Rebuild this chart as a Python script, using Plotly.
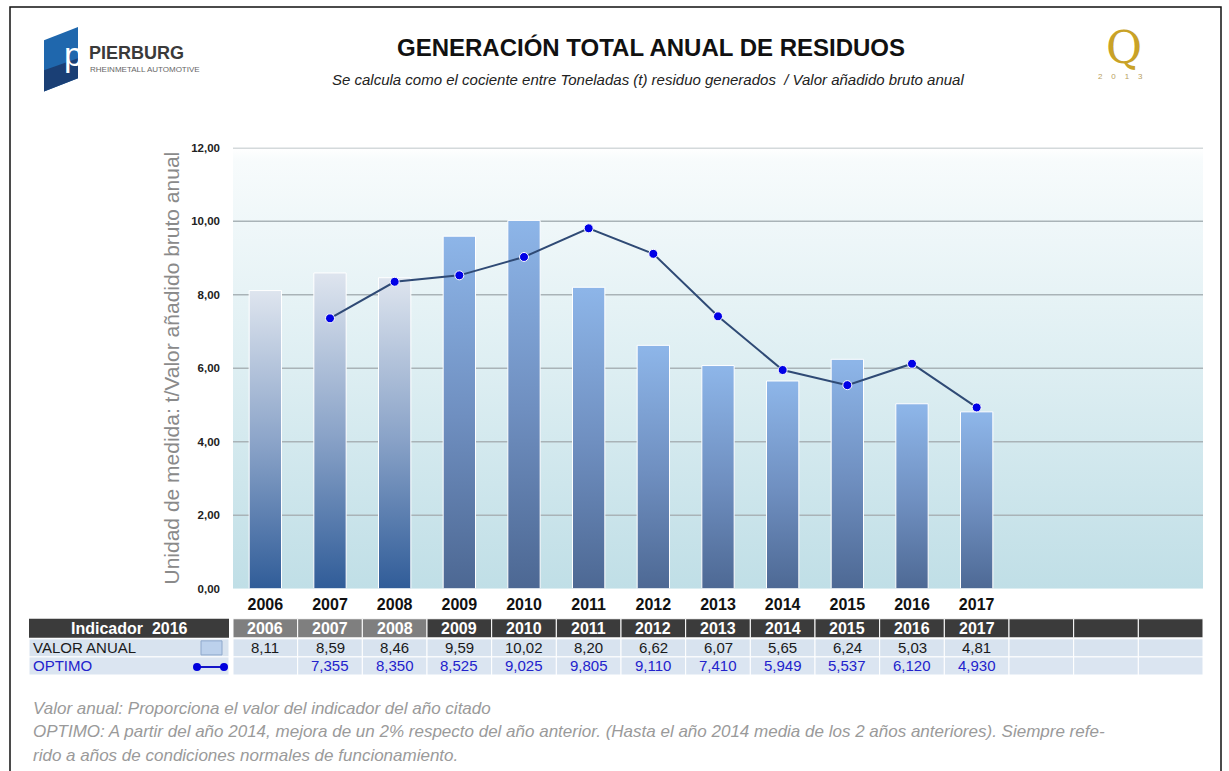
import plotly.graph_objects as go

# ---------------- data ----------------
years = ["2006", "2007", "2008", "2009", "2010", "2011", "2012", "2013", "2014", "2015", "2016", "2017"]
valor_anual = [8.11, 8.59, 8.46, 9.59, 10.02, 8.20, 6.62, 6.07, 5.65, 6.24, 5.03, 4.81]
optimo = [None, 7.355, 8.350, 8.525, 9.025, 9.805, 9.110, 7.410, 5.949, 5.537, 6.120, 4.930]
y_ticks = [0, 2, 4, 6, 8, 10, 12]
n_empty_cols = 3

title = "GENERACIÓN TOTAL ANUAL DE RESIDUOS"
subtitle = "Se calcula como el cociente entre Toneladas (t) residuo generados  / Valor añadido bruto anual"
y_title = "Unidad de medida: t/Valor añadido bruto anual"
table_head = "Indicador  2016"
row_labels = ["VALOR ANUAL", "OPTIMO"]
notes = [
    "Valor anual: Proporciona el valor del indicador del año citado",
    "OPTIMO: A partir del año 2014, mejora de un 2% respecto del año anterior. (Hasta el año 2014 media de los 2 años anteriores). Siempre refe-",
    "rido a años de condiciones normales de funcionamiento.",
]

# ---------------- styling ----------------
W, H = 1229, 771
OFF, SC = 8.0, 0.98    # vertical calibration of the photographed page
FONT = "Liberation Sans, Arial, sans-serif"
n_pale = 3
bar_half = 0.25
ncols = len(years) + n_empty_cols
x_range = [-0.5, ncols - 0.5]


def px(p):
    return p / W


def py(p):
    return 1 - ((p - OFF) / SC) / H


def fmt(v, d):
    return "" if v is None else f"{v:.{d}f}".replace(".", ",")


fig = go.Figure()

# background gradient of plot area
fig.add_trace(go.Scatter(
    x=[x_range[0], x_range[1], x_range[1], x_range[0], x_range[0]],
    y=[y_ticks[0], y_ticks[0], y_ticks[-1], y_ticks[-1], y_ticks[0]],
    fill="toself", mode="lines", line=dict(width=0),
    fillgradient=dict(type="vertical", start=y_ticks[0], stop=y_ticks[-1],
                      colorscale=[[0, "#bfdee6"], [0.5, "#ddeef2"], [0.97, "#f7fbfc"], [1, "#ffffff"]]),
    hoverinfo="skip", showlegend=False))

# gridlines (behind bars)
gx, gy = [], []
for t in y_ticks[1:]:
    gx += [x_range[0], x_range[1], None]
    gy += [t, t, None]
fig.add_trace(go.Scatter(x=gx, y=gy, mode="lines", line=dict(color="#a9b3b7", width=1.5),
                         hoverinfo="skip", showlegend=False))

# bars with vertical gradient
for i, v in enumerate(valor_anual):
    if i < n_pale:
        cs = [[0, "#2c5996"], [0.5, "#8aa3c8"], [1, "#dde4ee"]]
    else:
        cs = [[0, "#4b6691"], [0.5, "#6f8fc0"], [1, "#8db5e8"]]
    fig.add_trace(go.Scatter(
        x=[i - bar_half, i + bar_half, i + bar_half, i - bar_half, i - bar_half],
        y=[0, 0, v, v, 0],
        fill="toself", mode="lines", line=dict(color="white", width=1),
        fillgradient=dict(type="vertical", start=0, stop=v, colorscale=cs),
        name=years[i], hoverinfo="skip", showlegend=False))

# OPTIMO line
fig.add_trace(go.Scatter(
    x=list(range(len(years))), y=optimo, mode="lines+markers",
    line=dict(color="#2f4a75", width=2),
    marker=dict(color="#0000e6", size=9, line=dict(color="white", width=1)),
    connectgaps=False, showlegend=False, name="OPTIMO"))

shapes = []
annotations = []

# outer border
shapes.append(dict(type="rect", xref="paper", yref="paper", x0=px(10), x1=px(1221), y0=py(800), y1=py(9),
                   line=dict(color="#111111", width=1.5), fillcolor="rgba(0,0,0,0)"))

# ---------------- table ----------------
hdr_top, hdr_bot = 618, 637
r1_top, r1_bot = 638, 656
r2_top, r2_bot = 656, 674

# first column
shapes.append(dict(type="rect", xref="paper", yref="paper", x0=px(29), x1=px(229), y0=py(hdr_bot), y1=py(hdr_top),
                   fillcolor="#3b3b3b", line=dict(width=0), layer="above"))
shapes.append(dict(type="rect", xref="paper", yref="paper", x0=px(29), x1=px(229), y0=py(r1_bot), y1=py(r1_top),
                   fillcolor="#d8e3ef", line=dict(color="white", width=1), layer="above"))
shapes.append(dict(type="rect", xref="paper", yref="paper", x0=px(29), x1=px(229), y0=py(r2_bot), y1=py(r2_top),
                   fillcolor="#dbe5f1", line=dict(color="white", width=1), layer="above"))
annotations.append(dict(text="<b>" + table_head + "</b>", xref="paper", yref="paper", x=px(129), y=py((hdr_top + hdr_bot) / 2),
                        showarrow=False, font=dict(family=FONT, size=16, color="white"), xanchor="center", yanchor="middle"))
annotations.append(dict(text=row_labels[0], xref="paper", yref="paper", x=px(31), y=py((r1_top + r1_bot) / 2),
                        showarrow=False, font=dict(family=FONT, size=15, color="#1a1a1a"), xanchor="left", yanchor="middle"))
annotations.append(dict(text=row_labels[1], xref="paper", yref="paper", x=px(31), y=py((r2_top + r2_bot) / 2),
                        showarrow=False, font=dict(family=FONT, size=15, color="#2222cc"), xanchor="left", yanchor="middle"))
# legend symbols
shapes.append(dict(type="rect", xref="paper", yref="paper", x0=px(201), x1=px(222), y0=py(654), y1=py(640),
                   fillcolor="#bcd1ec", line=dict(color="#8ea8cc", width=1), layer="above"))
shapes.append(dict(type="line", xref="paper", yref="paper", x0=px(197), x1=px(224), y0=py(666), y1=py(666),
                   line=dict(color="#1515c8", width=2), layer="above"))
for cx in (197, 224):
    shapes.append(dict(type="circle", xref="paper", yref="paper", x0=px(cx - 4), x1=px(cx + 4), y0=py(670), y1=py(662),
                       fillcolor="#0000dd", line=dict(width=0), layer="above"))

# year columns
for c in range(ncols):
    hcol = "#7f7f7f" if c < n_pale else "#3b3b3b"
    shapes.append(dict(type="rect", xref="x", yref="paper", x0=c - 0.5, x1=c + 0.5, y0=py(hdr_bot), y1=py(hdr_top),
                       fillcolor=hcol, line=dict(color="white", width=1), layer="above"))
    shapes.append(dict(type="rect", xref="x", yref="paper", x0=c - 0.5, x1=c + 0.5, y0=py(r1_bot), y1=py(r1_top),
                       fillcolor="#d8e3ef", line=dict(color="white", width=1), layer="above"))
    shapes.append(dict(type="rect", xref="x", yref="paper", x0=c - 0.5, x1=c + 0.5, y0=py(r2_bot), y1=py(r2_top),
                       fillcolor="#dbe5f1", line=dict(color="white", width=1), layer="above"))
    if c < len(years):
        annotations.append(dict(text="<b>" + years[c] + "</b>", xref="x", yref="paper", x=c, y=py((hdr_top + hdr_bot) / 2),
                                showarrow=False, font=dict(family=FONT, size=16, color="white"), yanchor="middle"))
        annotations.append(dict(text=fmt(valor_anual[c], 2), xref="x", yref="paper", x=c, y=py((r1_top + r1_bot) / 2),
                                showarrow=False, font=dict(family=FONT, size=15, color="#1a1a1a"), yanchor="middle"))
        annotations.append(dict(text=fmt(optimo[c], 3), xref="x", yref="paper", x=c, y=py((r2_top + r2_bot) / 2),
                                showarrow=False, font=dict(family=FONT, size=15, color="#2222cc"), yanchor="middle"))

# ---------------- titles ----------------
annotations.append(dict(text="<b>" + title + "</b>", xref="paper", yref="paper", x=px(651), y=py(49),
                        showarrow=False, font=dict(family=FONT, size=24, color="#111111"), yanchor="middle"))
annotations.append(dict(text="<i>" + subtitle + "</i>", xref="paper", yref="paper", x=px(648), y=py(81),
                        showarrow=False, font=dict(family=FONT, size=15, color="#222222"), yanchor="middle"))

# notes
for k, t in enumerate(notes):
    annotations.append(dict(text="<i>" + t + "</i>", xref="paper", yref="paper", x=px(31), y=py(707 + 23.5 * k),
                            showarrow=False, xanchor="left", yanchor="middle",
                            font=dict(family=FONT, size=17, color="#9a9a9a")))

# ---------------- logos ----------------
shapes.append(dict(type="path", xref="paper", yref="paper",
                   path=f"M {px(44)} {py(42)} L {px(78)} {py(29)} L {px(78)} {py(80)} L {px(44)} {py(93)} Z",
                   fillcolor="#1f67ad", line=dict(width=0)))
shapes.append(dict(type="path", xref="paper", yref="paper",
                   path=f"M {px(44)} {py(72)} L {px(78)} {py(60)} L {px(78)} {py(80)} L {px(44)} {py(93)} Z",
                   fillcolor="#1a3f75", line=dict(width=0)))
annotations.append(dict(text="p", xref="paper", yref="paper", x=px(62), y=py(56),
                        showarrow=False, font=dict(family=FONT, size=34, color="white"), yanchor="middle"))
annotations.append(dict(text="<b>PIERBURG</b>", xref="paper", yref="paper", x=px(87), y=py(55),
                        showarrow=False, xanchor="left", yanchor="middle",
                        font=dict(family=FONT, size=18, color="#3a3a3a")))
annotations.append(dict(text="RHEINMETALL AUTOMOTIVE", xref="paper", yref="paper", x=px(88), y=py(71),
                        showarrow=False, xanchor="left", yanchor="middle",
                        font=dict(family=FONT, size=8, color="#666666")))
annotations.append(dict(text="Q", xref="paper", yref="paper", x=px(1144), y=py(49),
                        showarrow=False, yanchor="middle",
                        font=dict(family="DejaVu Serif, Liberation Serif, serif", size=44, color="#c9a227")))
annotations.append(dict(text="2    0    1    3", xref="paper", yref="paper", x=px(1145), y=py(78),
                        showarrow=False, yanchor="middle",
                        font=dict(family=FONT, size=8, color="#b8a060")))

fig.update_layout(
    width=W, height=H,
    margin=dict(l=0, r=0, t=0, b=0),
    paper_bgcolor="white", plot_bgcolor="rgba(0,0,0,0)",
    separators=",.",
    showlegend=False,
    shapes=shapes, annotations=annotations,
    xaxis=dict(domain=[px(233), px(1203)], range=x_range,
               tickvals=list(range(len(years))), ticktext=["<b>" + y + "</b>" for y in years],
               tickfont=dict(family=FONT, size=16, color="#111111"),
               showgrid=False, zeroline=False, showline=False, ticks="", ticklabelstandoff=4,
               fixedrange=True),
    yaxis=dict(domain=[py(588), py(149)], range=[y_ticks[0], y_ticks[-1]],
               tickvals=y_ticks, tickformat=".2f",
               tickfont=dict(family=FONT, size=11.5, color="#222222", weight="bold"),
               showgrid=False, zeroline=False, showline=False, ticks="", ticklabelstandoff=12,
               title=dict(text=y_title, font=dict(family=FONT, size=21, color="#8a8a8a"), standoff=5),
               fixedrange=True),
)

fig.write_html("out.html")
